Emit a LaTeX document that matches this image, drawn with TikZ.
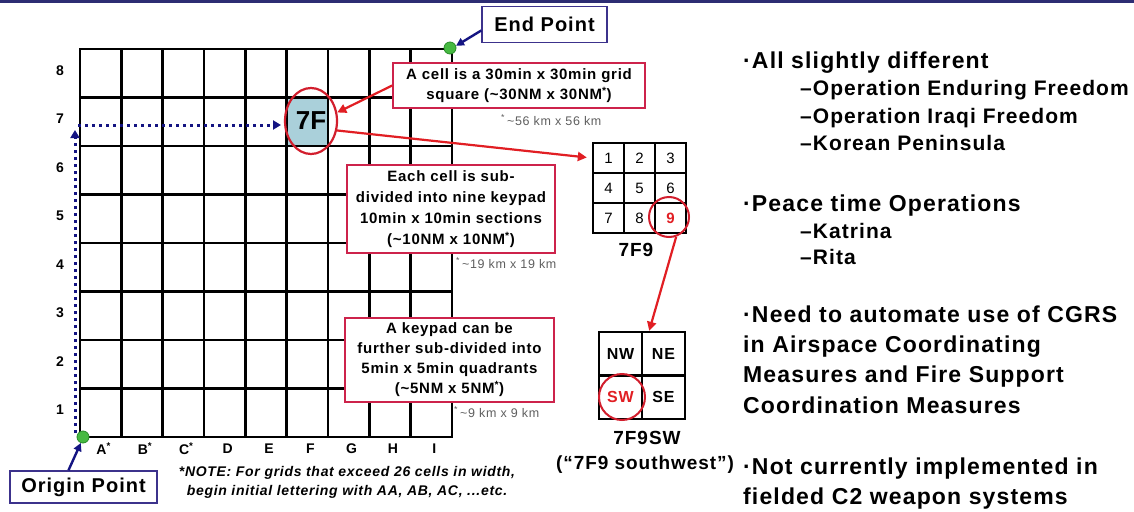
\documentclass[tikz,border=0pt]{standalone}
\usepackage{fontspec}
\setmainfont{Liberation Sans}
\newfontfamily\wsans{Liberation Sans}[LetterSpace=5]
\usetikzlibrary{arrows.meta,shapes.geometric,calc}
\definecolor{navy}{RGB}{20,20,130}
\definecolor{boxnavy}{RGB}{60,50,140}
\definecolor{boxred}{RGB}{205,35,75}
\definecolor{arrred}{RGB}{225,30,35}
\definecolor{ellred}{RGB}{210,30,45}
\definecolor{cellblue}{RGB}{170,208,218}
\definecolor{dotgreen}{RGB}{70,185,65}
\definecolor{dotedge}{RGB}{40,140,40}
\definecolor{notegray}{RGB}{95,95,95}
\definecolor{topbar}{RGB}{45,45,115}
\newcommand{\myfs}[1]{\fontsize{#1}{#1}\selectfont}
\begin{document}
\begin{tikzpicture}[x=1pt,y=-1pt,
  gridline/.style={line width=2.4pt, line cap=rect},
  axislab/.style={inner sep=0pt, font=\wsans\bfseries\myfs{14}},
  redbox/.style={draw=boxred, line width=1.6pt, fill=white, align=center, inner sep=0pt, font=\wsans\bfseries\fontsize{15}{20}\selectfont},
  redarrow/.style={draw=arrred, line width=2.2pt, -{Triangle[length=9pt,width=9pt]}},
  navyarrow/.style={draw=navy, line width=2.4pt, -{Triangle[length=8pt,width=8pt]}},
  dotarrow/.style={draw=navy, line width=3pt, dash pattern=on 3pt off 4pt, -{Triangle[length=8pt,width=9pt]}},
  bluebox/.style={draw=boxnavy, line width=1.5pt, fill=white, inner sep=0pt, font=\wsans\bfseries\myfs{20}},
  gdot/.style={circle, fill=dotgreen, draw=dotedge, line width=0.8pt, minimum size=12pt, inner sep=0pt},
  kmnote/.style={anchor=west, inner sep=0pt, text=notegray, font=\wsans\myfs{12.5}},
  kcell/.style={draw, line width=2.4pt, minimum width=31pt, minimum height=30pt, inner sep=0pt, font=\myfs{15}},
  qcell/.style={draw, line width=2.4pt, minimum width=43pt, minimum height=43.5pt, inner sep=0pt, font=\wsans\bfseries\myfs{16}},
  biglab/.style={inner sep=0pt, font=\wsans\bfseries\myfs{19}},
  bul/.style={anchor=base west, inner sep=0pt, font=\wsans\bfseries\myfs{23}},
  subitem/.style={anchor=base west, inner sep=0pt, font=\wsans\bfseries\myfs{21}},
  notetext/.style={align=center, inner sep=0pt, font=\wsans\bfseries\itshape\fontsize{14}{19}\selectfont}
]
\useasboundingbox (0,0) rectangle (1134,511);
\fill[white] (0,0) rectangle (1134,511);
\fill[topbar] (0,0) rectangle (1134,3);

% highlighted cell 7F
\fill[cellblue] (286.67,97.5) rectangle (328,146);

% grid
\foreach \i in {0,...,9}{\draw[gridline] ({80+41.33*\i},49) -- ({80+41.33*\i},437);}
\foreach \j in {0,...,8}{\draw[gridline] (80,{49+48.5*\j}) -- (452,{49+48.5*\j});}

% row labels
\foreach \r in {1,...,8}{\node[axislab] (row\r) at (60,{437-48.5*(\r-0.5)-3}) {\r};}
% column labels
\foreach \t [count=\k from 0] in {A\textsuperscript{*},B\textsuperscript{*},C\textsuperscript{*},D,E,F,G,H,I}{
  \node[axislab] (col\k) at ({80+41.33*(\k+0.5)+3},449) {\t};}

% origin / end points
\node[gdot] (odot) at (83,437) {};
\node[gdot] (edot) at (450,48) {};

% dotted path
\coordinate (vbot) at (75,433);
\coordinate (vtop) at (75,130);
\coordinate (hleft) at (78,125);
\coordinate (hright) at (281,125);
\draw[dotarrow] (vbot) -- (vtop);
\draw[dotarrow] (hleft) -- (hright);

% 7F ellipse
\node[ellipse, draw=ellred, line width=2.2pt, minimum width=52pt, minimum height=66pt, inner sep=0pt, font=\bfseries\myfs{26}] (c7f) at (311,121) {7F};

% explanation boxes
\node[redbox, minimum width=252pt, minimum height=45pt] (b1) at (519,85.5)
  {A cell is a 30min x 30min grid\\square (\textasciitilde30NM x 30NM\textsuperscript{*})};
\node[redbox, minimum width=208pt, minimum height=88pt, font=\wsans\bfseries\fontsize{15}{21}\selectfont] (b2) at (451,209)
  {Each cell is sub-\\divided into nine keypad\\10min x 10min sections\\(\textasciitilde10NM x 10NM\textsuperscript{*})};
\node[redbox, minimum width=209pt, minimum height=84pt] (b3) at (449.5,360)
  {A keypad can be\\further sub-divided into\\5min x 5min quadrants\\(\textasciitilde5NM x 5NM\textsuperscript{*})};

% km notes
\node[kmnote] (n1) at (501,120) {\textsuperscript{*}\,\textasciitilde56 km x 56 km};
\node[kmnote] (n2) at (456,263) {\textsuperscript{*}\,\textasciitilde19 km x 19 km};
\node[kmnote] (n3) at (454,412) {\textsuperscript{*}\,\textasciitilde9 km x 9 km};

% keypad
\node[kcell] (k1) at (608.5,158) {1};
\node[kcell] (k2) at (639.5,158) {2};
\node[kcell] (k3) at (670.5,158) {3};
\node[kcell] (k4) at (608.5,188) {4};
\node[kcell] (k5) at (639.5,188) {5};
\node[kcell] (k6) at (670.5,188) {6};
\node[kcell] (k7) at (608.5,218) {7};
\node[kcell] (k8) at (639.5,218) {8};
\node[kcell, text=arrred, font=\bfseries\myfs{15}] (k9) at (670.5,218) {9};
\node[circle, draw=ellred, line width=2pt, minimum size=40pt, inner sep=0pt] (k9c) at (669,217) {};
\node[biglab] (l7f9) at (636,250) {7F9};

% quadrants
\node[qcell] (q1) at (620.5,353.75) {NW};
\node[qcell] (q2) at (663.5,353.75) {NE};
\node[qcell, text=arrred] (q3) at (620.5,397.25) {SW};
\node[qcell] (q4) at (663.5,397.25) {SE};
\node[circle, draw=ellred, line width=2pt, minimum size=46pt, inner sep=0pt] (q3c) at (622,397) {};
\node[biglab] (l7f9sw) at (647,438) {7F9SW};
\node[biglab] (lsw) at (645,465) {(“7F9 southwest”)};

% red arrows
\draw[redarrow] (b1.west) -- (c7f.18);
\draw[redarrow, shorten >=5pt] (c7f.-20) -- (k1.west);
\draw[redarrow] (k9c.-70) -- ($(q1.north east)+(6,0)$);

% origin / end boxes
\node[bluebox, minimum width=147pt, minimum height=32pt] (ob) at (83.5,487) {Origin Point};
\node[bluebox, minimum width=125pt, minimum height=36pt] (eb) at (544.5,24.5) {End Point};
\draw[navyarrow] ($(ob.north)+(-15,0)$) -- (odot.250);
\draw[navyarrow] ($(eb.west)+(0,6)$) -- (edot.20);

% note
\node[notetext] (note) at (347,482) {*NOTE: For grids that exceed 26 cells in width,\\begin initial lettering with AA, AB, AC, ...etc.};

% right-hand text
\node[bul] (t1) at (743,68) {·All slightly different};
\node[subitem] (t2) at (800,95) {–Operation Enduring Freedom};
\node[subitem] (t3) at (800,123) {–Operation Iraqi Freedom};
\node[subitem] (t4) at (800,150) {–Korean Peninsula};
\node[bul] (t5) at (743,211) {·Peace time Operations};
\node[subitem] (t6) at (800,238) {–Katrina};
\node[subitem] (t7) at (800,264) {–Rita};
\node[bul] (t8) at (743,322) {·Need to automate use of CGRS};
\node[bul] (t9) at (743,352) {in Airspace Coordinating};
\node[bul] (t10) at (743,382) {Measures and Fire Support};
\node[bul] (t11) at (743,413) {Coordination Measures};
\node[bul] (t12) at (743,474) {·Not currently implemented in};
\node[bul] (t13) at (743,504) {fielded C2 weapon systems};
\end{tikzpicture}
\end{document}
